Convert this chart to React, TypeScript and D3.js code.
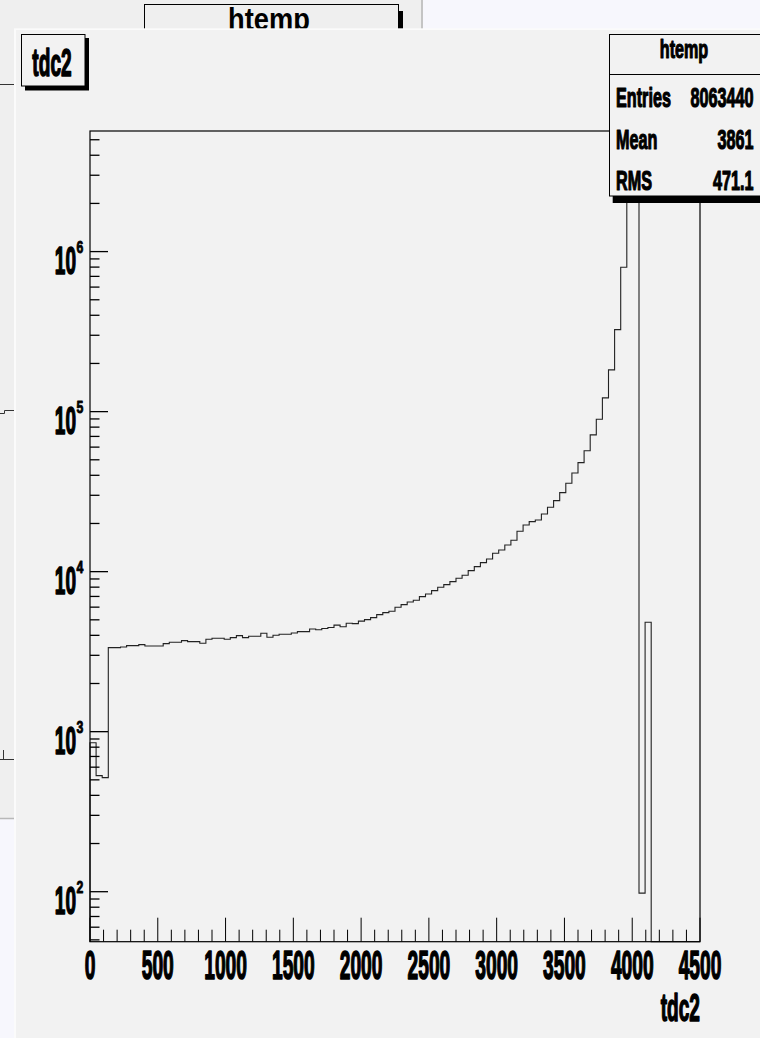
import * as d3 from 'd3'

// histogram "htemp" of tdc2: 100 bins from 0 to 4500
const X_MIN = 0
const X_MAX = 4500
const binCounts = [
  853, 531, 516, 3350, 3350, 3383, 3447, 3447, 3499, 3432,
  3432, 3432, 3548, 3620, 3620, 3705, 3652, 3652, 3569, 3780,
  3835, 3835, 3780, 3868, 3981, 3868, 3947, 3947, 4121, 3890,
  4004, 4062, 4062, 4140, 4217, 4217, 4384, 4330, 4416, 4480,
  4631, 4525, 4764, 4732, 4905, 5012, 5158, 5386, 5543, 5656,
  5991, 6219, 6466, 6626, 6977, 7254, 7607, 7989, 8293, 8660,
  9094, 9495, 10145, 10746, 11382, 12006, 13032, 13665, 14686, 15713,
  17886, 19585, 20535, 21042, 22945, 25263, 27784, 31174, 35685, 41383,
  48007, 56950, 71520, 89640, 121800, 182200, 325500, 799000, 2450000, 3250000,
  98, 4830, 0, 0, 0, 0, 0, 0, 0, 0,
]
const xMajorTicks = [0, 500, 1000, 1500, 2000, 2500, 3000, 3500, 4000, 4500]
const yDecades = [2, 3, 4, 5, 6]
const Y_RANGE: [number, number] = [48.7, 5.67e6]

const statLabels = ['Entries', 'Mean', 'RMS']
const statValues = ['8063440', '3861', '471.1']

const FONT = "'Liberation Sans', Arial, Helvetica, sans-serif"
const FRAME = { left: 90, right: 700, top: 131, bottom: 941.7 }

const CANVAS = '#f2f2f2'
const BACK_CANVAS = '#efefef'
const PAGE = '#f7f7fd'

function CText({ x, y, size, sx, anchor = 'start', heavy = 0, children }: {
  x: number; y: number; size: number; sx: number; anchor?: string; heavy?: number; children: React.ReactNode
}) {
  return (
    <text
      transform={`translate(${x},${y}) scale(${sx},1)`}
      fontSize={size}
      fontWeight="bold"
      fontFamily={FONT}
      textAnchor={anchor}
      fill="#000"
      stroke={heavy ? '#000' : 'none'}
      strokeWidth={heavy}
      strokeLinejoin="round"
    >
      {children}
    </text>
  )
}

export default function App() {
  const x = d3.scaleLinear().domain([X_MIN, X_MAX]).range([FRAME.left, FRAME.right])
  const y = d3.scaleLog().domain(Y_RANGE).range([FRAME.bottom, FRAME.top])
  const yc = (v: number) => (v <= Y_RANGE[0] ? FRAME.bottom : Math.max(FRAME.top, y(v)))

  const binWidth = (X_MAX - X_MIN) / binCounts.length
  const pts: [number, number][] = [[X_MIN, 0]]
  binCounts.forEach((c, i) => {
    pts.push([X_MIN + i * binWidth, c], [X_MIN + (i + 1) * binWidth, c])
  })
  pts.push([X_MAX, 0])
  const line = d3.line<[number, number]>().x((d) => x(d[0])).y((d) => yc(d[1]))

  const xMinorTicks = d3.range(X_MIN, X_MAX + 1, 100).filter((v) => v % 500 !== 0)
  const yMinorTicks: number[] = []
  for (let e = 1; e <= 6; e++) {
    for (let m = 2; m <= 9; m++) {
      const v = m * Math.pow(10, e)
      if (v > Y_RANGE[0] && v < Y_RANGE[1]) yMinorTicks.push(v)
    }
  }

  return (
    <>
      <style>{'body{margin:0;background:' + PAGE + '}'}</style>
      <svg width={760} height={1038} viewBox="0 0 760 1038" style={{ display: 'block' }}>
        <rect x={0} y={0} width={760} height={1038} fill={PAGE} />

        {/* canvas behind */}
        <rect x={0} y={0} width={421} height={818} fill={BACK_CANVAS} />
        <line x1={422} y1={0} x2={422} y2={818} stroke="#c4c4c4" strokeWidth={2} />
        <line x1={0} y1={818.5} x2={62} y2={818.5} stroke="#b8b8b8" strokeWidth={1.5} />
        <line x1={0} y1={84.5} x2={14} y2={84.5} stroke="#333" />
        <path d="M0,413.5 H4.5 V410.5 H14" fill="none" stroke="#333" />
        <path d="M3.5,750 V760 M0,759.5 H14" fill="none" stroke="#333" />
        <rect x={398} y={11} width={5} height={20} fill="#000" />
        <rect x={144.5} y={4.5} width={254} height={30} fill={BACK_CANVAS} stroke="#000" />
        <CText x={269} y={30} size={31} sx={0.88} anchor="middle">htemp</CText>

        {/* main canvas */}
        <rect x={14} y={28.3} width={746} height={1010} fill="#fbfbfb" />
        <rect x={16} y={30} width={744} height={1008} fill={CANVAS} />

        <path d={line(pts) ?? undefined} fill="none" stroke="#222" strokeWidth={1.1} />

        <rect
          x={FRAME.left}
          y={FRAME.top}
          width={FRAME.right - FRAME.left}
          height={FRAME.bottom - FRAME.top}
          fill="none"
          stroke="#000"
          strokeWidth={1.2}
        />

        {/* y axis (log) */}
        {yDecades.map((e) => {
          const yy = y(Math.pow(10, e))
          return (
            <g key={e}>
              <line x1={FRAME.left} x2={FRAME.left + 18} y1={yy} y2={yy} stroke="#000" strokeWidth={1.3} />
              <CText x={76} y={yy + 22.5} size={38} sx={0.5} anchor="end" heavy={1.6}>10</CText>
              <CText x={76.5} y={yy + 1.6} size={17} sx={0.72} heavy={0.9}>{String(e)}</CText>
            </g>
          )
        })}
        {yMinorTicks.map((v) => (
          <line key={v} x1={FRAME.left} x2={FRAME.left + 9.5} y1={y(v)} y2={y(v)} stroke="#000" strokeWidth={1.3} />
        ))}

        {/* x axis */}
        {xMajorTicks.map((v) => (
          <g key={v}>
            <line x1={x(v)} x2={x(v)} y1={FRAME.bottom} y2={FRAME.bottom - 24} stroke="#000" />
            <CText x={x(v)} y={979.3} size={40} sx={0.48} anchor="middle" heavy={1.6}>{String(v)}</CText>
          </g>
        ))}
        {xMinorTicks.map((v) => (
          <line key={v} x1={x(v)} x2={x(v)} y1={FRAME.bottom} y2={FRAME.bottom - 12} stroke="#000" />
        ))}
        <CText x={700} y={1021} size={39} sx={0.49} anchor="end" heavy={1.6}>tdc2</CText>

        {/* title box */}
        <rect x={25} y={38} width={64} height={52.5} fill="#000" />
        <rect x={21.5} y={34.5} width={63.5} height={51.5} fill={CANVAS} stroke="#000" />
        <CText x={52} y={76} size={39} sx={0.49} anchor="middle" heavy={1.6}>tdc2</CText>

        {/* stats box */}
        <rect x={612.7} y={196} width={150} height={7} fill="#000" />
        <rect x={609.5} y={34.5} width={160} height={161.5} fill={CANVAS} stroke="#000" />
        <line x1={609.5} x2={760} y1={74.5} y2={74.5} stroke="#000" />
        <CText x={684} y={58} size={26} sx={0.62} anchor="middle" heavy={1.2}>htemp</CText>
        {statLabels.map((lab, i) => (
          <g key={lab}>
            <CText x={616} y={107.3 + i * 41.4} size={27} sx={0.6} heavy={1.2}>{lab}</CText>
            <CText x={753.5} y={107.3 + i * 41.4} size={27} sx={0.6} anchor="end" heavy={1.2}>{statValues[i]}</CText>
          </g>
        ))}
      </svg>
    </>
  )
}
